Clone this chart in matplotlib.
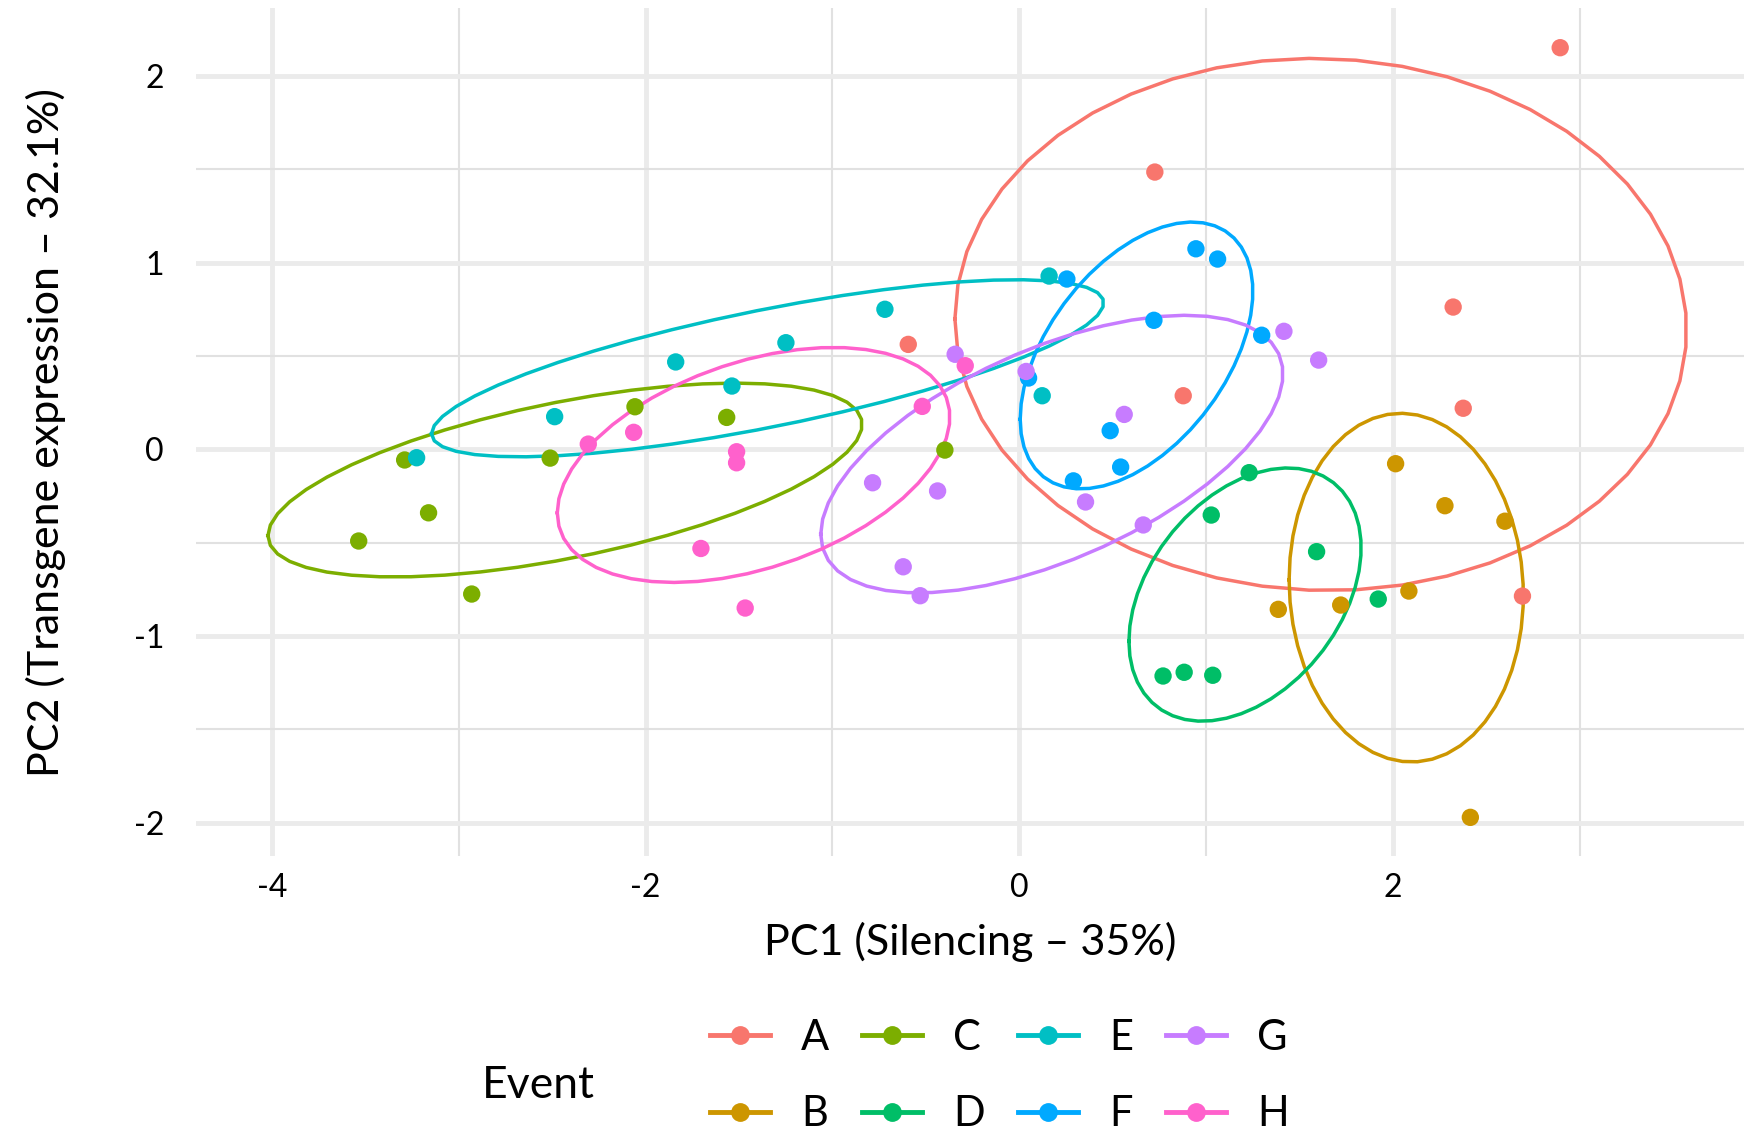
"""PCA de eventos transgênicos: PC1 x PC2 com elipses por evento."""

import numpy as np
import matplotlib
matplotlib.use("Agg")
import matplotlib.pyplot as plt
from matplotlib.lines import Line2D
from matplotlib.ticker import MultipleLocator

plt.rcParams.update({
    "font.family": ["Lato", "DejaVu Sans"],
})

events = ["A", "B", "C", "D", "E", "F", "G", "H"]
colors = ["#F8766D", "#CD9600", "#7CAE00", "#00BE67",
          "#00BFC4", "#00A9FF", "#C77CFF", "#FF61CC"]

pc1 = {
    "A": [2.896, 0.726, 2.323, -0.594, 0.878, 2.377, 2.694],
    "B": [2.015, 2.279, 2.600, 2.086, 1.721, 1.387, 2.415],
    "C": [-2.057, -1.566, -3.290, -2.511, -0.398, -3.162, -3.536, -2.931],
    "D": [1.231, 1.028, 1.592, 1.922, 0.770, 0.883, 1.036],
    "E": [0.160, -0.719, -1.249, -1.839, -1.538, -2.487, 0.123, -3.226],
    "F": [0.946, 1.062, 0.255, 0.721, 1.298, 0.050, 0.487, 0.543, 0.290],
    "G": [1.417, 1.603, -0.343, 0.037, 0.562, 0.355, -0.785, -0.437, 0.664, -0.621, -0.530],
    "H": [-0.289, -0.519, -2.064, -2.307, -1.513, -1.513, -1.704, -1.467],
}
pc2 = {
    "A": [2.151, 1.485, 0.762, 0.562, 0.287, 0.220, -0.786],
    "B": [-0.077, -0.302, -0.385, -0.759, -0.834, -0.857, -1.971],
    "C": [0.228, 0.171, -0.057, -0.047, -0.004, -0.340, -0.491, -0.775],
    "D": [-0.125, -0.352, -0.548, -0.802, -1.214, -1.194, -1.210],
    "E": [0.928, 0.750, 0.571, 0.468, 0.339, 0.175, 0.287, -0.045],
    "F": [1.074, 1.019, 0.912, 0.691, 0.611, 0.382, 0.100, -0.095, -0.169],
    "G": [0.632, 0.478, 0.509, 0.417, 0.187, -0.282, -0.179, -0.223, -0.405, -0.629, -0.784],
    "H": [0.448, 0.230, 0.091, 0.028, -0.013, -0.072, -0.531, -0.850],
}

ELLIPSE_PROB = 0.68


def ellipse_path(x, y, prob=ELLIPSE_PROB, npts=50):
    # elipse normal como no ggbiplot: média, cov amostral, raio qchisq(prob, 2)
    pts = np.column_stack([x, y])
    mu = pts.mean(axis=0)
    sigma = np.cov(pts, rowvar=False)
    ed = np.sqrt(-2 * np.log(1 - prob))
    theta = np.linspace(-np.pi, np.pi, npts)
    circle = np.column_stack([np.cos(theta), np.sin(theta)])
    L = np.linalg.cholesky(sigma)
    return mu + ed * circle @ L.T


fig = plt.figure(figsize=(17.44, 11.31), dpi=100)
ax = fig.add_axes([196 / 1744, 1 - 856 / 1131, 1 - 196 / 1744, (856 - 8.3) / 1131])

for ev, col in zip(events, colors):
    ax.scatter(pc1[ev], pc2[ev], s=12.5 ** 2, color=col, edgecolors="none", zorder=4)
for ev, col in zip(events, colors):
    e = ellipse_path(pc1[ev], pc2[ev])
    ax.plot(e[:, 0], e[:, 1], color=col, linewidth=2.5, zorder=3)

ax.set_xlim(-4.407, 3.880)
ax.set_ylim(-2.178, 2.362)
ax.xaxis.set_minor_locator(MultipleLocator(1))
ax.yaxis.set_minor_locator(MultipleLocator(0.5))
ax.set_xticks([-4, -2, 0, 2])
ax.set_xticklabels(["-4", "-2", "0", "2"])
ax.set_yticks([-2, -1, 0, 1, 2])
ax.set_yticklabels(["-2", "-1", "0", "1", "2"])

ax.grid(which="major", color="#EBEBEB", linewidth=3.5, zorder=0)
ax.grid(which="minor", color="#E1E1E1", linewidth=1.5, zorder=0)
ax.set_axisbelow(True)
for s in ax.spines.values():
    s.set_visible(False)
ax.tick_params(which="both", length=0, labelsize=23, colors="black")
ax.tick_params(axis="x", pad=12)
ax.tick_params(axis="y", pad=23)

ax.set_xlabel("PC1 (Silencing \u2013 35%)", fontsize=31, labelpad=14)
ax.set_ylabel("PC2 (Transgene expression \u2013 32.1%)", fontsize=31)
ax.yaxis.set_label_coords(-0.084, 0.5)

handles = [Line2D([], [], color=c, marker="o", markersize=12.5, linewidth=3.5)
           for c in colors]
ax.legend(handles, events, ncol=4, frameon=False, fontsize=30,
          loc="center left", bbox_to_anchor=(710 / 1744, 1 - 1076 / 1131),
          bbox_transform=fig.transFigure, borderpad=0, borderaxespad=0,
          handlelength=1.44, handletextpad=0.74, columnspacing=0.8,
          labelspacing=0.92)
fig.text(482 / 1744, 1 - 1085 / 1131, "Event", fontsize=32, va="center", ha="left")

fig.savefig("out.png", dpi=100)
